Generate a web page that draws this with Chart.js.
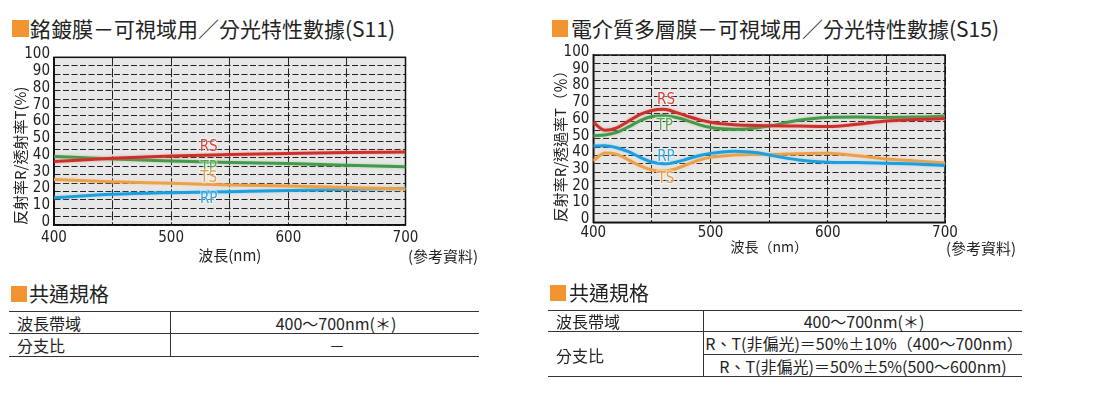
<!DOCTYPE html>
<html><head><meta charset="utf-8">
<script src="https://cdn.jsdelivr.net/npm/chart.js@4.4.0/dist/chart.umd.min.js"></script>
<style>
html,body{margin:0;padding:0;}
body{width:1101px;height:396px;background:#fff;position:relative;overflow:hidden;font-family:'Noto Sans CJK TC','Noto Sans CJK JP',sans-serif;color:#222;}
.t{position:absolute;white-space:nowrap;line-height:1;}
.c{transform:translateX(-50%);}
.sq{position:absolute;background:#f39433;}
.hl{position:absolute;height:1px;background:#333;}
.vl{position:absolute;width:1px;background:#333;}
canvas{position:absolute;}
</style></head>
<body>
<div class="sq" style="left:12px;top:20px;width:16.5px;height:16.5px"></div>
<div class="t" style="left:30px;top:17.5px;font-size:21px">銘鍍膜－可視域用／分光特性數據(S11)</div>
<div class="sq" style="left:551.5px;top:20px;width:16.5px;height:16.5px"></div>
<div class="t" style="left:571px;top:17.5px;font-size:21px">電介質多層膜－可視域用／分光特性數據(S15)</div>

<canvas id="c1" width="540" height="230" style="left:0;top:40px"></canvas>
<canvas id="c2" width="561" height="230" style="left:540px;top:40px"></canvas>

<div class="t" style="left:408px;top:247.5px;font-size:15px">(參考資料)</div>
<div class="t" style="left:946px;top:239.5px;font-size:15px">(參考資料)</div>

<!-- left spec table -->
<div class="sq" style="left:11px;top:286px;width:15.5px;height:15.5px"></div>
<div class="t" style="left:29px;top:284px;font-size:20px">共通規格</div>
<div class="hl" style="left:9px;top:311px;width:470px"></div>
<div class="hl" style="left:9px;top:333px;width:470px"></div>
<div class="hl" style="left:9px;top:356px;width:470px"></div>
<div class="vl" style="left:170px;top:311px;height:45px"></div>
<div class="t" style="left:17px;top:314.5px;font-size:16px">波長帶域</div>
<div class="t c" style="left:336px;top:314.5px;font-size:16px">400～700nm(＊)</div>
<div class="t" style="left:17px;top:337px;font-size:16px">分支比</div>
<div class="t c" style="left:337px;top:337px;font-size:16px">－</div>

<!-- right spec table -->
<div class="sq" style="left:550px;top:285px;width:15.5px;height:15.5px"></div>
<div class="t" style="left:569px;top:283px;font-size:20px">共通規格</div>
<div class="hl" style="left:548px;top:310px;width:474px"></div>
<div class="hl" style="left:548px;top:331px;width:474px"></div>
<div class="hl" style="left:703px;top:354px;width:319px"></div>
<div class="hl" style="left:548px;top:376px;width:474px"></div>
<div class="vl" style="left:703px;top:310px;height:66px"></div>
<div class="t" style="left:556px;top:313px;font-size:16px">波長帶域</div>
<div class="t c" style="left:864px;top:313px;font-size:16px">400～700nm(＊)</div>
<div class="t" style="left:556px;top:347px;font-size:16px">分支比</div>
<div class="t c" style="left:864px;top:335px;font-size:16px">R、T(非偏光)＝50%±10%（400～700nm）</div>
<div class="t c" style="left:863px;top:358px;font-size:16px">R、T(非偏光)＝50%±5%(500～600nm)</div>

<script>
// ---------- data ----------
const wavelengthsS11 = [400, 450, 500, 550, 600, 650, 700];
const rsS11 = [37.8, 39.8, 41.2, 42.0, 42.7, 43.3, 43.5];
const tpS11 = [40.8, 39.4, 38.2, 37.2, 36.6, 35.6, 34.8];
const tsS11 = [27.2, 25.8, 24.9, 23.9, 23.3, 22.3, 21.5];
const rpS11 = [16.3, 18.3, 19.3, 19.9, 20.5, 21.3, 21.7];

const wavelengthsS15 = [400, 410, 420, 430, 440, 450, 460, 470, 480, 490, 500, 510, 520, 530, 540, 550, 575, 600, 625, 650, 675, 700];
const rsS15 = [59.8, 55.0, 56.5, 60.5, 64.5, 66.8, 67.5, 65.8, 63.5, 61.4, 59.8, 58.9, 58.3, 58.0, 57.8, 57.7, 57.5, 57.3, 58.6, 60.5, 61.4, 62.0];
const tpS15 = [51.8, 52.2, 53.8, 57.0, 60.8, 63.2, 63.7, 62.8, 60.8, 58.4, 56.7, 55.9, 55.6, 55.8, 56.5, 57.5, 61.0, 62.7, 62.9, 62.7, 62.9, 63.5];
const rpS15 = [45.6, 45.8, 44.6, 42.2, 38.8, 36.0, 35.0, 35.9, 37.8, 39.8, 41.2, 42.0, 42.4, 42.2, 41.6, 40.2, 37.3, 35.9, 35.7, 35.3, 34.9, 33.9];
const tsS15 = [36.7, 41.4, 40.6, 37.3, 33.7, 31.3, 30.7, 31.9, 34.5, 37.2, 38.8, 39.6, 40.2, 40.4, 40.6, 40.6, 41.0, 41.2, 39.8, 37.8, 36.7, 35.5];

const xTickLabels = [400, 500, 600, 700];
const yTickLabels = [0, 10, 20, 30, 40, 50, 60, 70, 80, 90, 100];

// ---------- styles ----------
const NARROW = "'Liberation Sans Narrow','Arial Narrow','DejaVu Sans Condensed',sans-serif";
const CJK = "'Noto Sans CJK TC','Noto Sans CJK JP',sans-serif";
const COL = {
  RS: {line: '#cd302b', label: '#d9453b', halo: 'rgba(240,120,110,0.55)'},
  TP: {line: '#45994a', label: '#5aa84e', halo: 'rgba(130,200,120,0.55)'},
  TS: {line: '#eba14a', label: '#e99d45', halo: 'rgba(250,200,140,0.6)'},
  RP: {line: '#1c9fdc', label: '#30a5e0', halo: 'rgba(120,200,240,0.55)'}
};

function pts(xs, ys) { return xs.map((x, i) => ({x: x, y: ys[i]})); }

const framePlugin = {
  id: 'frame',
  beforeDraw(chart) {
    const a = chart.chartArea, ctx = chart.ctx;
    ctx.save();
    ctx.fillStyle = '#e7e7e7';
    ctx.fillRect(a.left, a.top, a.right - a.left, a.bottom - a.top);
    ctx.restore();
  },
  beforeDatasetsDraw(chart) {
    const a = chart.chartArea, ctx = chart.ctx;
    ctx.save();
    ctx.strokeStyle = '#111';
    ctx.lineWidth = 1.5;
    ctx.strokeRect(a.left, a.top, a.right - a.left, a.bottom - a.top);
    ctx.restore();
  },
  beforeDatasetDraw(chart, args) {
    const ds = chart.data.datasets[args.index];
    chart.ctx.save();
    chart.ctx.shadowColor = ds.haloColor;
    chart.ctx.shadowBlur = 3;
  },
  afterDatasetDraw(chart) {
    chart.ctx.restore();
  },
  afterDatasetsDraw(chart, args, opts) {
    const ctx = chart.ctx, sx = chart.scales.x, sy = chart.scales.y;
    ctx.save();
    ctx.font = '15px ' + NARROW;
    ctx.textAlign = 'center';
    ctx.textBaseline = 'middle';
    (opts.labels || []).forEach(l => {
      const x = sx.getPixelForValue(l.at[0]);
      const y = sy.getPixelForValue(l.at[1]);
      ctx.lineWidth = 2.5;
      ctx.strokeStyle = 'rgba(255,255,255,0.45)';
      ctx.strokeText(l.name, x, y);
      ctx.fillStyle = COL[l.name].label;
      ctx.fillText(l.name, x, y);
    });
    ctx.restore();
  }
};

function makeChart(id, cfg) {
  const datasets = cfg.series.map(s => ({
    label: s.name,
    data: pts(cfg.xs, s.values),
    borderColor: COL[s.name].line,
    haloColor: COL[s.name].halo,
    borderWidth: 3,
    pointRadius: 0,
    fill: false,
    cubicInterpolationMode: 'monotone'
  }));
  return new Chart(document.getElementById(id), {
    type: 'line',
    data: {datasets: datasets},
    plugins: [framePlugin],
    options: {
      responsive: false,
      animation: false,
      devicePixelRatio: 1,
      layout: {padding: {top: cfg.padTop, right: cfg.padRight, left: 0, bottom: 0}},
      plugins: {legend: {display: false}, tooltip: {enabled: false}, frame: {labels: cfg.labels}},
      scales: {
        x: {
          type: 'linear', min: 400, max: 700,
          afterFit: s => { s.height = cfg.xHeight; },
          ticks: {
            stepSize: 50, autoSkip: false, maxRotation: 0, padding: cfg.xPad,
            font: {family: NARROW, size: 15}, color: '#222',
            callback: v => xTickLabels.includes(v) ? String(v) : ''
          },
          grid: {color: '#222', lineWidth: 1, drawTicks: false},
          border: {display: true, color: '#111', width: 1.5, dash: [9, 2]},
          title: {display: true, text: cfg.xTitle, color: '#222',
                  font: {family: CJK, size: cfg.xTitleSize}, padding: {top: 0, bottom: cfg.xTitlePadB}}
        },
        y: {
          min: 0, max: 100,
          afterFit: s => { s.width = cfg.yWidth; },
          ticks: {
            stepSize: 5, autoSkip: false, padding: 4, labelOffset: -3,
            font: {family: NARROW, size: 15}, color: '#222',
            callback: v => yTickLabels.includes(v) ? String(v) : ''
          },
          grid: {color: '#222', lineWidth: 1, drawTicks: false},
          border: {display: true, color: '#111', width: 1.5, dash: [6, 2.5]},
          title: {display: true, text: cfg.yTitle, align: 'start', color: '#222',
                  font: {family: CJK, size: 15}, padding: {top: 11, bottom: 0}}
        }
      }
    }
  });
}

makeChart('c1', {
  xs: wavelengthsS11,
  series: [{name: 'RS', values: rsS11}, {name: 'TP', values: tpS11}, {name: 'TS', values: tsS11}, {name: 'RP', values: rpS11}],
  labels: [{name: 'RS', at: [532, 46.5]}, {name: 'TP', at: [532, 34]}, {name: 'TS', at: [532, 27.7]}, {name: 'RP', at: [532, 15.5]}],
  padTop: 17.3, padRight: 134.5, xHeight: 45, yWidth: 54, xPad: 3.8,
  xTitle: '波長(nm)', xTitleSize: 15, xTitlePadB: 6,
  yTitle: '反射率R/透射率T(%)'
});

makeChart('c2', {
  xs: wavelengthsS15,
  series: [{name: 'RS', values: rsS15}, {name: 'TP', values: tpS15}, {name: 'RP', values: rpS15}, {name: 'TS', values: tsS15}],
  labels: [{name: 'RS', at: [462, 73.1]}, {name: 'TP', at: [461, 57.6]}, {name: 'RP', at: [462, 39.1]}, {name: 'TS', at: [462, 25.9]}],
  padTop: 15, padRight: 156, xHeight: 47.7, yWidth: 53.3, xPad: 1.5,
  xTitle: '波長（nm）', xTitleSize: 14, xTitlePadB: 14.6,
  yTitle: '反射率R/透過率T（％）'
});
</script>
</body></html>
